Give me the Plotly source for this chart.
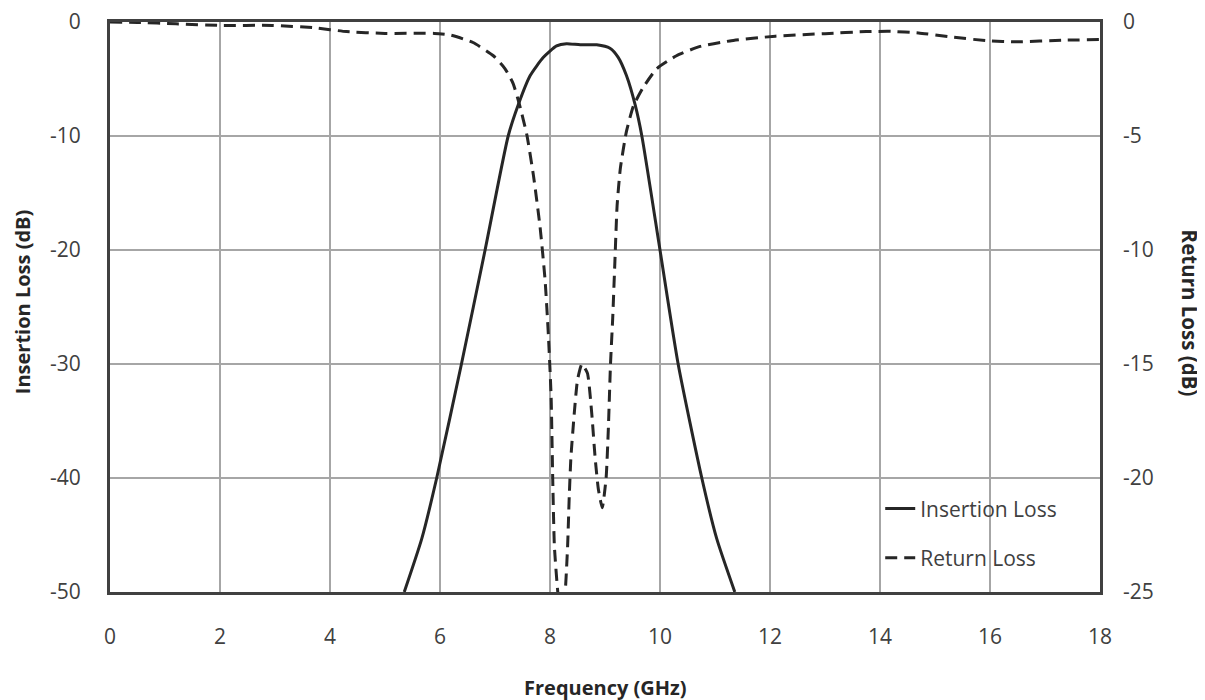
import plotly.graph_objects as go

# Insertion loss (left axis, dB)
il_freq = [5.35, 5.67, 5.94, 6.39, 6.82, 7.24, 7.42, 7.64, 7.88, 8.12, 8.3, 8.55, 8.85,
           9.09, 9.24, 9.39, 9.55, 9.67, 10.0, 10.33, 10.76, 11.03, 11.36]
il_db = [-50, -45.3, -40, -30, -20, -10, -7.3, -4.7, -3.1, -2.1, -1.9, -2.0, -2.0,
         -2.3, -3.1, -4.7, -7.3, -10, -20, -30, -40, -45.3, -50]

# Return loss (right axis, dB)
rl_freq = [0, 0.5, 1.2, 2.0, 2.95, 3.7, 4.3, 5.0, 5.9, 6.2, 6.6, 6.97, 7.18, 7.33, 7.45, 7.58,
           7.7, 7.82, 7.91, 7.97, 8.02, 8.05, 8.08, 8.15, 8.21, 8.27, 8.32, 8.35, 8.38, 8.44,
           8.5, 8.58, 8.68, 8.76, 8.82, 8.88, 8.95, 9.02, 9.06, 9.1, 9.14, 9.18, 9.22, 9.28,
           9.39, 9.52, 9.7, 9.94, 10.3, 10.73, 11.27, 12.1, 13.0, 13.75, 14.2, 14.7, 15.3,
           15.95, 16.5, 17.3, 18.0]
rl_db = [0, -0.02, -0.08, -0.15, -0.15, -0.25, -0.42, -0.5, -0.5, -0.58, -0.9, -1.48, -2.04,
         -2.7, -3.67, -4.96, -6.75, -9.0, -11.3, -13.7, -16.4, -20.1, -23.0, -25.2, -26.0,
         -25.2, -23.0, -20.8, -19.1, -17.2, -15.7, -15.0, -15.4, -17.2, -19.1, -20.5, -21.3,
         -20.0, -17.9, -15.0, -13.0, -10.5, -8.05, -6.4, -4.8, -3.66, -2.85, -2.05, -1.48,
         -1.07, -0.83, -0.62, -0.51, -0.42, -0.41, -0.48, -0.66, -0.82, -0.87, -0.8, -0.77]

x_ticks = [0, 2, 4, 6, 8, 10, 12, 14, 16, 18]
x_labels = ["0", "2", "4", "6", "8", "10", "12", "14", "16", "18"]
left_ticks = [0, -10, -20, -30, -40, -50]
left_labels = ["0", "-10", "-20", "-30", "-40", "-50"]
right_ticks = [0, -5, -10, -15, -20, -25]
right_labels = ["0", "-5", "-10", "-15", "-20", "-25"]

FONT = "Open Sans"
TXT = "#404040"
LINE = "#262626"

fig = go.Figure()
fig.add_trace(go.Scatter(x=il_freq, y=il_db, mode="lines", name="Insertion Loss",
                         line=dict(color=LINE, width=3, shape="spline", smoothing=0.6),
                         legendgroup="a"))
fig.add_trace(go.Scatter(x=rl_freq, y=rl_db, mode="lines", name="Return Loss", yaxis="y2",
                         line=dict(color=LINE, width=3, dash="12px,7px", shape="spline", smoothing=0.5),
                         legendgroup="b"))

fig.update_layout(
    width=1197, height=692,
    margin=dict(l=102, r=105, t=14, b=108, autoexpand=False),
    paper_bgcolor="white", plot_bgcolor="white",
    font=dict(family=FONT, size=21, color=TXT),
    showlegend=True,
    legend=dict(x=0.778, y=0.182, xanchor="left", yanchor="top", bgcolor="rgba(0,0,0,0)",
                font=dict(size=21, color=TXT), tracegroupgap=19, traceorder="grouped"),
    xaxis=dict(range=[0, 18], tickvals=x_ticks, ticktext=x_labels, showgrid=True,
               gridcolor="#a6a6a6", gridwidth=1.5, automargin=False,
               showline=True, linecolor="#404040", linewidth=3, mirror=True, zeroline=False,
               ticks="", ticklabelstandoff=24, ticklabeloverflow="allow"),
    yaxis=dict(range=[-50, 0], tickvals=left_ticks, ticktext=left_labels, showgrid=True,
               gridcolor="#a6a6a6", gridwidth=1.5, automargin=False,
               showline=True, linecolor="#404040", linewidth=3, mirror=True, zeroline=False,
               ticks="", ticklabelstandoff=22, ticklabeloverflow="allow"),
    yaxis2=dict(range=[-25, 0], tickvals=right_ticks, ticktext=right_labels, overlaying="y",
                side="right", showgrid=False, automargin=False,
                showline=False, zeroline=False, ticks="", ticklabelstandoff=22,
                ticklabeloverflow="allow"),
    annotations=[
        dict(text="<b>Insertion Loss (dB)</b>", xref="paper", yref="paper", x=-0.089, y=0.51,
             textangle=-90, showarrow=False, font=dict(size=20, color="#262626"),
             xanchor="center", yanchor="middle"),
        dict(text="<b>Return Loss (dB)</b>", xref="paper", yref="paper", x=1.091, y=0.49,
             textangle=90, showarrow=False, font=dict(size=20.5, color="#262626"),
             xanchor="center", yanchor="middle"),
        dict(text="<b>Frequency (GHz)</b>", xref="paper", yref="paper", x=0.5, y=-0.168,
             showarrow=False, font=dict(size=20, color="#262626"),
             xanchor="center", yanchor="middle"),
    ],
)

fig.write_html("out.html")
